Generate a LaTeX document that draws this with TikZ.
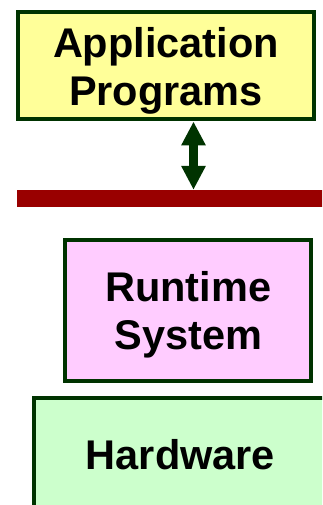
\documentclass[tikz,border=0pt]{standalone}
\usepackage{fontspec}
\setmainfont{Liberation Sans}
\usetikzlibrary{arrows.meta}

\definecolor{boxline}{HTML}{003300}
\definecolor{appfill}{HTML}{FFFF99}
\definecolor{rtfill}{HTML}{FFCCFF}
\definecolor{hwfill}{HTML}{CCFFCC}
\definecolor{apired}{HTML}{990000}

\begin{document}
\begin{tikzpicture}[x=1pt,y=-1pt]

        \clip (0,0) rectangle (322,505);
        \useasboundingbox (0,0) rectangle (322,505);

        \begin{scope}[every node/.style={rectangle, draw=boxline, line width=4pt, align=center,
                      text depth=0pt, font=\fontsize{41.5}{48}\selectfont\bfseries}]
          \node[fill=appfill, minimum width=296pt, minimum height=107pt] (app) at (166,66)      {Application\\Programs};
          \node[fill=rtfill,  minimum width=246pt, minimum height=141pt] (rts) at (188.25,310) {Runtime\\System};
          \node[fill=hwfill,  minimum width=293pt, minimum height=112pt] (hw)  at (180.5,454)  {Hardware};
        \end{scope}

        % interface bar
        \node[fill=apired, minimum width=314pt, minimum height=17pt, inner sep=0pt] (api) at (174,198.5) {};

        \coordinate (mid) at (193.5,0);

        \begin{scope}[every edge/.style={draw=boxline, line width=9pt,
                      {Triangle[width=23pt,length=24pt]}-{Triangle[width=23pt,length=24pt]}}]
          \path (app.south -| mid) edge (api.north -| mid);
        \end{scope}

      \end{tikzpicture}
\end{document}
